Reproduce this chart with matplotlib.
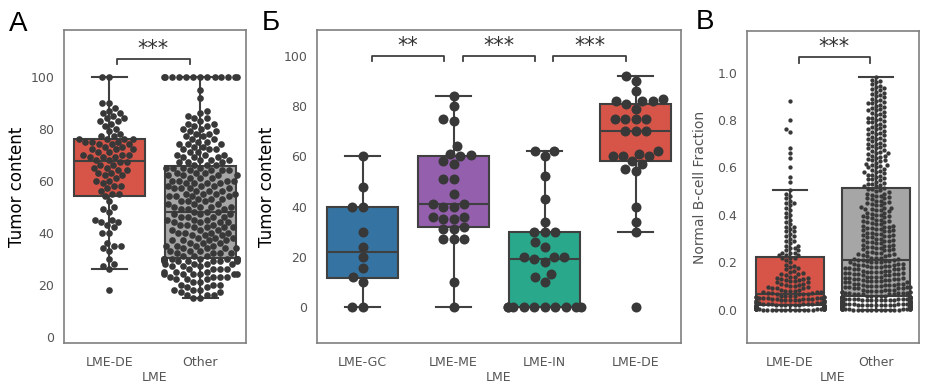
import numpy as np
import pandas as pd
import matplotlib
matplotlib.use("Agg")
import matplotlib.pyplot as plt
import seaborn as sns
import warnings

warnings.filterwarnings("ignore")

plt.rcParams['font.family'] = ['DejaVu Sans']

# ---- Panel A: tumor content, LME-DE vs Other
a_groups = ['LME-DE', 'Other']
a_de = [18, 26, 27, 28, 30, 33, 34, 35, 35, 36, 40, 40, 42, 43, 44, 44, 45, 45, 48, 49, 50, 52,
        54, 55, 55, 56, 57, 58, 58, 59, 60, 60, 61, 62, 62, 63, 63, 64, 64, 65, 65, 66, 66, 67, 67,
        68, 68, 69, 69, 69, 70, 70, 70, 71, 71, 72, 72, 72, 73, 73, 74, 74, 74, 75, 75, 75, 76, 76,
        76, 76, 77, 77, 78, 79, 80, 81, 82, 83, 83, 84, 84, 85, 86, 86, 87, 88, 90, 90, 100, 100]
a_other_levels = list(range(15, 88)) + [92, 95, 100]
a_other_counts = [2, 3, 2, 3, 2,
                  3, 2, 3, 4, 6,
                  3, 4, 3, 4, 6,
                  12, 3, 4, 3, 4,
                  4, 3, 4, 3, 3,
                  4, 3, 4, 3, 4,
                  3, 4, 3, 3, 3,
                  4, 3, 3, 3, 4,
                  4, 3, 4, 3, 4,
                  4, 3, 4, 3, 4,
                  4, 3, 3, 3, 3,
                  3, 2, 3, 2, 3, 2,
                  2, 2, 2, 2,
                  2, 2, 2, 1, 2,
                  1, 1, 1,
                  1, 1, 13]

# ---- Panel Б: tumor content by LME class
b_groups = ['LME-GC', 'LME-ME', 'LME-IN', 'LME-DE']
b_gc = [0, 0, 10, 12, 15.5, 20, 24, 30, 40, 40, 48, 60]
b_me = [0, 10, 27, 27, 27, 31, 31, 32, 35, 35, 36, 36, 40, 40, 41, 41, 45, 51, 51, 57, 58, 60,
        60.5, 61, 64, 74, 75, 80, 84]
b_in = [0, 0, 0, 0, 0, 0, 0, 0, 0, 0, 10, 12, 13, 18, 19, 20, 20, 20, 24, 26, 30, 30, 30,
        34, 43, 52, 60, 62, 62]
b_de = [0, 30, 34, 40, 54, 55, 57, 58, 60, 60, 60, 61, 62, 70, 70, 70, 75, 75, 75, 75, 79, 81,
        82, 82, 82, 83, 86, 90, 92]

# ---- Panel B: normal B-cell fraction (counts per 0.01 bin, recorded to 0.005)
c_groups = ['LME-DE', 'Other']
c_de_levels = [0.00, 0.01, 0.02, 0.03, 0.04, 0.05, 0.06, 0.07, 0.08, 0.09, 0.10, 0.11,
               0.12, 0.13, 0.14, 0.15, 0.16, 0.17, 0.18, 0.19, 0.20, 0.21]
c_de_counts = [24, 26, 12, 11, 10, 9, 8, 6, 5, 5, 4, 4, 4, 4, 3, 3, 2, 2, 2, 1, 1, 1]
c_de_upper = [0.22, 0.22, 0.22, 0.23, 0.23, 0.23, 0.24, 0.24, 0.24, 0.25, 0.25, 0.26, 0.26,
              0.27, 0.27, 0.28, 0.29, 0.29, 0.30, 0.31, 0.31, 0.32, 0.33, 0.33, 0.34, 0.35,
              0.35, 0.36, 0.37, 0.38, 0.39, 0.40, 0.41, 0.42, 0.43, 0.44, 0.45, 0.45, 0.46,
              0.47, 0.48, 0.49, 0.505,
              0.54, 0.56, 0.60, 0.64, 0.66, 0.68, 0.75, 0.76, 0.80, 0.88]
c_other_levels = np.round(np.arange(0.0, 0.985, 0.01), 2)
c_other_counts = ([22, 20, 18, 18, 16, 16] +
                  [10, 9, 8, 8, 8, 7, 7, 7, 7, 7, 7, 7, 6, 6, 7] +
                  [5, 5, 4, 4, 4, 4, 4, 4, 4, 4, 4, 4, 4, 4, 4, 3, 4, 3, 4, 3,
                   3, 4, 3, 3, 3, 3, 3, 3, 3, 2] +
                  [3, 3, 3, 2, 3, 2, 3, 3, 2, 3, 3, 2, 3, 2, 3, 3, 2, 3, 2, 3,
                   2, 3, 2, 3, 2, 3, 2, 2, 3, 2, 3, 2, 2, 3, 2, 2, 3, 2, 2, 2,
                   2, 2, 2, 2, 1, 2, 1, 1])

red = '#d65548'
gray = '#a6a6a6'
blue = '#3574a2'
purple = '#9460ad'
teal = '#29a88b'
dot = '#383838'
line = '#404040'
tick_col = '#555555'


def half_bins(levels, counts):
    # values were read per 0.01 bin; half of each bin sits on the upper half-step
    out = []
    for lv, c in zip(levels, counts):
        out += [lv] * ((c + 1) // 2) + [lv + 0.005] * (c // 2)
    return out


def box_swarm(ax, groups, data, colors, size):
    xs = []
    ys = []
    for g, d in zip(groups, data):
        xs += [g] * len(d)
        ys += list(d)
    sns.swarmplot(x=xs, y=ys, order=groups, color=dot, size=size, ax=ax, zorder=3)
    bp = ax.boxplot(data, positions=range(len(groups)), widths=0.78, patch_artist=True,
                    showfliers=False, manage_ticks=False, zorder=2,
                    boxprops=dict(edgecolor=line, linewidth=1.5),
                    medianprops=dict(color=line, linewidth=1.5),
                    whiskerprops=dict(color=line, linewidth=1.5),
                    capprops=dict(color=line, linewidth=1.5))
    for patch, c in zip(bp['boxes'], colors):
        patch.set_facecolor(c)
    ax.set_xlim(-0.5, len(groups) - 0.5)
    ax.set_xticks(range(len(groups)))
    ax.set_xticklabels(groups)
    ax.tick_params(length=0, labelsize=9, labelcolor=tick_col)
    ax.tick_params(axis='y', pad=7)
    ax.tick_params(axis='x', pad=9)
    for s in ax.spines.values():
        s.set_color('#7f7f7f')
        s.set_linewidth(1.2)
    ax.set_xlabel('LME', fontsize=9, color=tick_col)


def bracket(ax, x1, x2, y, h, text):
    ax.plot([x1, x1, x2, x2], [y - h, y, y, y - h], color=line, lw=1.3, zorder=4)
    ax.text((x1 + x2) / 2, y, text, ha='center', va='bottom', fontsize=15, color='#333333')


fig = plt.figure(figsize=(9.27, 3.9), dpi=100)
W, H = 927, 390

# Panel A
ax1 = fig.add_axes([64 / W, 47 / H, 182 / W, 313 / H])
a_other = np.repeat(a_other_levels, a_other_counts)
box_swarm(ax1, a_groups, [a_de, a_other], [red, gray], 4.8)
ax1.set_ylim(-2.5, 118)
ax1.set_yticks([0, 20, 40, 60, 80, 100])
ax1.set_ylabel('Tumor content', fontsize=12)
ax1.yaxis.set_label_coords(-0.21, 0.5)
ax1.xaxis.set_label_coords(0.5, -0.09)
bracket(ax1, 0.08, 0.88, 107, 2, '***')

# Panel Б
ax2 = fig.add_axes([317 / W, 47 / H, 364 / W, 313 / H])
box_swarm(ax2, b_groups, [b_gc, b_me, b_in, b_de], [blue, purple, teal, red], 7.2)
ax2.set_ylim(-14.4, 110.4)
ax2.set_yticks([0, 20, 40, 60, 80, 100])
ax2.set_ylabel('Tumor content', fontsize=12)
ax2.yaxis.set_label_coords(-0.112, 0.5)
ax2.xaxis.set_label_coords(0.5, -0.09)
bracket(ax2, 0.10, 0.90, 100, 2, '**')
bracket(ax2, 1.10, 1.90, 100, 2, '***')
bracket(ax2, 2.09, 2.90, 100, 2, '***')

# Panel B
ax3 = fig.add_axes([747 / W, 47 / H, 172 / W, 312 / H])
c_de = half_bins(c_de_levels, c_de_counts) + c_de_upper
c_other = half_bins(c_other_levels, c_other_counts)
box_swarm(ax3, c_groups, [c_de, c_other], [red, gray], 3.1)
ax3.set_ylim(-0.14, 1.175)
ax3.set_yticks([0.0, 0.2, 0.4, 0.6, 0.8, 1.0])
ax3.set_yticklabels(['0.0', '0.2', '0.4', '0.6', '0.8', '1.0'])
ax3.set_ylabel('Normal B-cell Fraction', fontsize=10, color=tick_col)
ax3.yaxis.set_label_coords(-0.23, 0.5)
ax3.xaxis.set_label_coords(0.5, -0.09)
bracket(ax3, 0.10, 0.93, 1.065, 0.025, '***')

# panel letters
fig.text(9 / W, 1 - 31 / H, 'A', fontsize=20, family='Liberation Sans')
fig.text(262 / W, 1 - 30 / H, 'Б', fontsize=20, family='Liberation Sans')
fig.text(696 / W, 1 - 29 / H, 'B', fontsize=20, family='Liberation Sans')

fig.savefig('out.png', dpi=100)
